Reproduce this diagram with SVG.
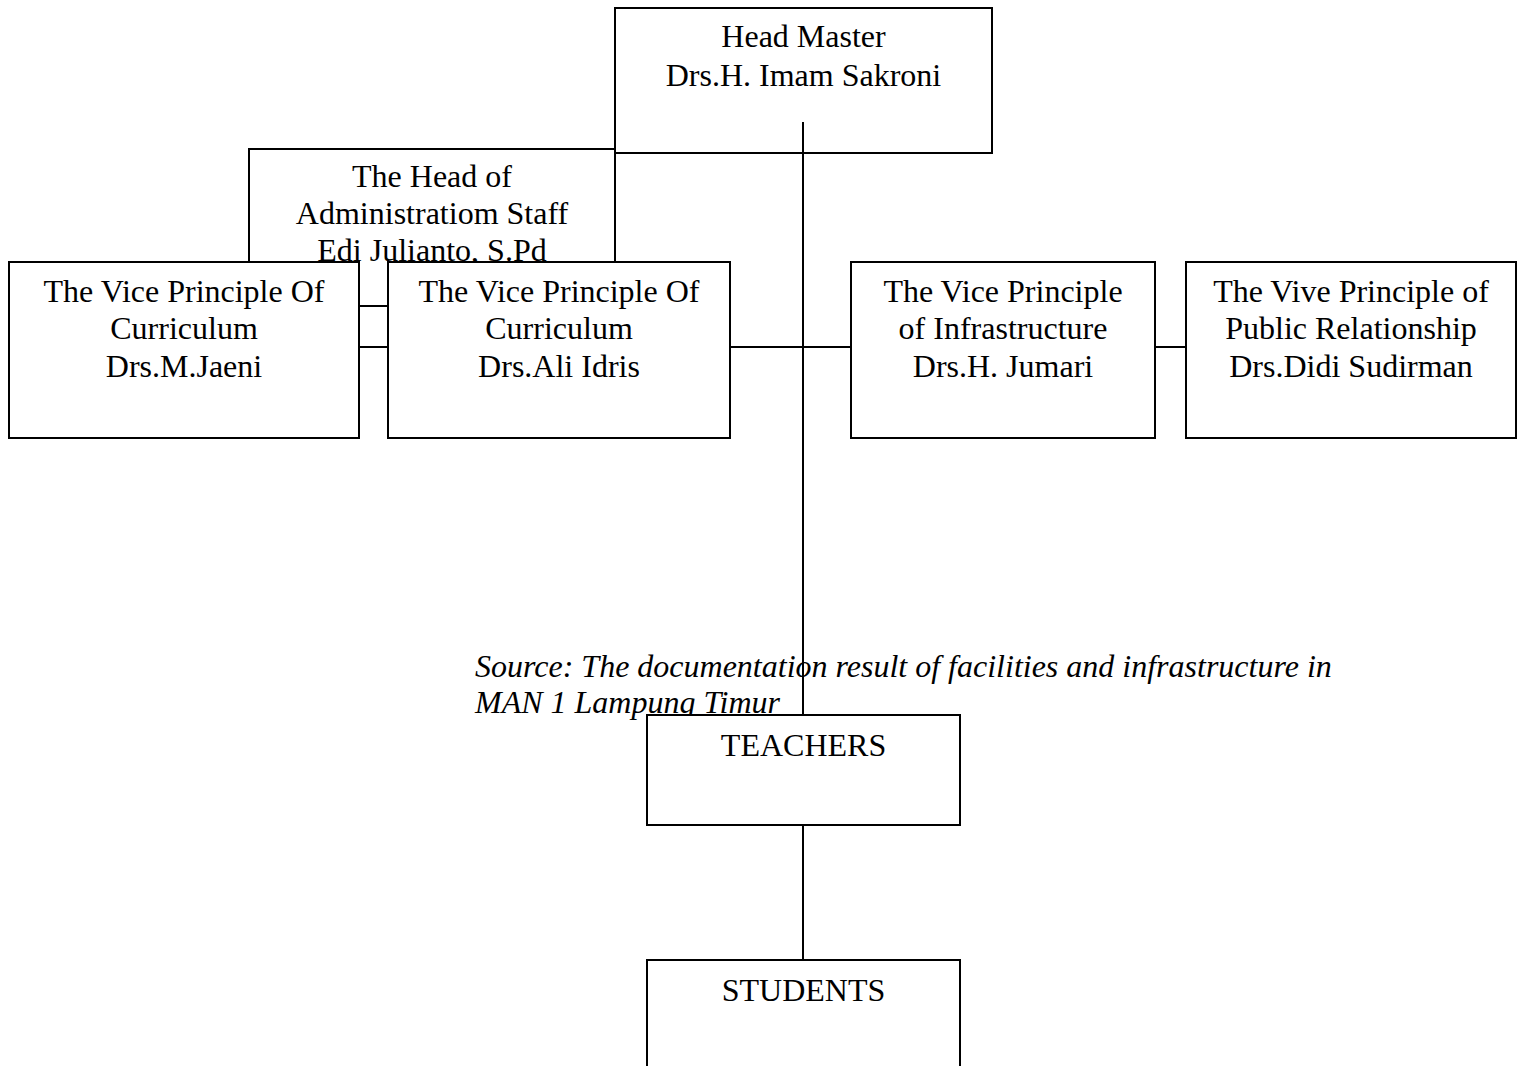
<svg xmlns="http://www.w3.org/2000/svg" width="1523" height="1066" viewBox="0 0 1523 1066">
<style>
.box{fill:#fff;stroke:#000;stroke-width:2}
.ln{stroke:#000;stroke-width:2;fill:none}
text{font-family:"Liberation Serif","Times New Roman",serif;font-size:32px;fill:#000}
.c{text-anchor:middle}
.src{font-style:italic}
</style>
<defs>
<clipPath id="admclip"><rect x="249" y="149" width="366" height="113"/></clipPath>
</defs>
<rect width="1523" height="1066" fill="#fff"/>
<g id="admin">
<path class="box" d="M249,262 V149 H615 V262"/>
<g clip-path="url(#admclip)">
<text class="c" x="432" y="187">The Head of</text>
<text class="c" x="432" y="224">Administratiom Staff</text>
<text class="c" x="432" y="261">Edi Julianto, S.Pd</text>
</g>
</g>
<g id="headmaster">
<rect class="box" x="615" y="8" width="377" height="145"/>
<text class="c" x="803.5" y="47">Head Master</text>
<text class="c" x="803.5" y="86">Drs.H. Imam Sakroni</text>
</g>
<g id="connectors">
<line class="ln" x1="803" y1="122" x2="803" y2="600"/>
<line class="ln" x1="803" y1="600" x2="803" y2="715"/>
<line class="ln" x1="359" y1="306" x2="388" y2="306"/>
<line class="ln" x1="359" y1="347" x2="388" y2="347"/>
<line class="ln" x1="730" y1="347" x2="850" y2="347"/>
<line class="ln" x1="1155" y1="347" x2="1186" y2="347"/>
<line class="ln" x1="803" y1="825" x2="803" y2="960"/>
</g>
<g id="vice1">
<rect class="box" x="9" y="262" width="350" height="176"/>
<text class="c" x="184" y="302">The Vice Principle Of</text>
<text class="c" x="184" y="339">Curriculum</text>
<text class="c" x="184" y="377">Drs.M.Jaeni</text>
</g>
<g id="vice2">
<rect class="box" x="388" y="262" width="342" height="176"/>
<text class="c" x="559" y="302">The Vice Principle Of</text>
<text class="c" x="559" y="339">Curriculum</text>
<text class="c" x="559" y="377">Drs.Ali Idris</text>
</g>
<g id="vice3">
<rect class="box" x="851" y="262" width="304" height="176"/>
<text class="c" x="1003" y="302">The Vice Principle</text>
<text class="c" x="1003" y="339">of Infrastructure</text>
<text class="c" x="1003" y="377">Drs.H. Jumari</text>
</g>
<g id="vice4">
<rect class="box" x="1186" y="262" width="330" height="176"/>
<text class="c" x="1351" y="302">The Vive Principle of</text>
<text class="c" x="1351" y="339">Public Relationship</text>
<text class="c" x="1351" y="377">Drs.Didi Sudirman</text>
</g>
<g id="source">
<text class="src" x="475" y="677">Source: The documentation result of facilities and infrastructure in</text>
<text class="src" x="475" y="713">MAN 1 Lampung Timur</text>
</g>
<g id="teachers">
<rect class="box" x="647" y="715" width="313" height="110"/>
<text class="c" x="803.5" y="756">TEACHERS</text>
</g>
<g id="students">
<rect class="box" x="647" y="960" width="313" height="130"/>
<text class="c" x="803.5" y="1001">STUDENTS</text>
</g>
</svg>
